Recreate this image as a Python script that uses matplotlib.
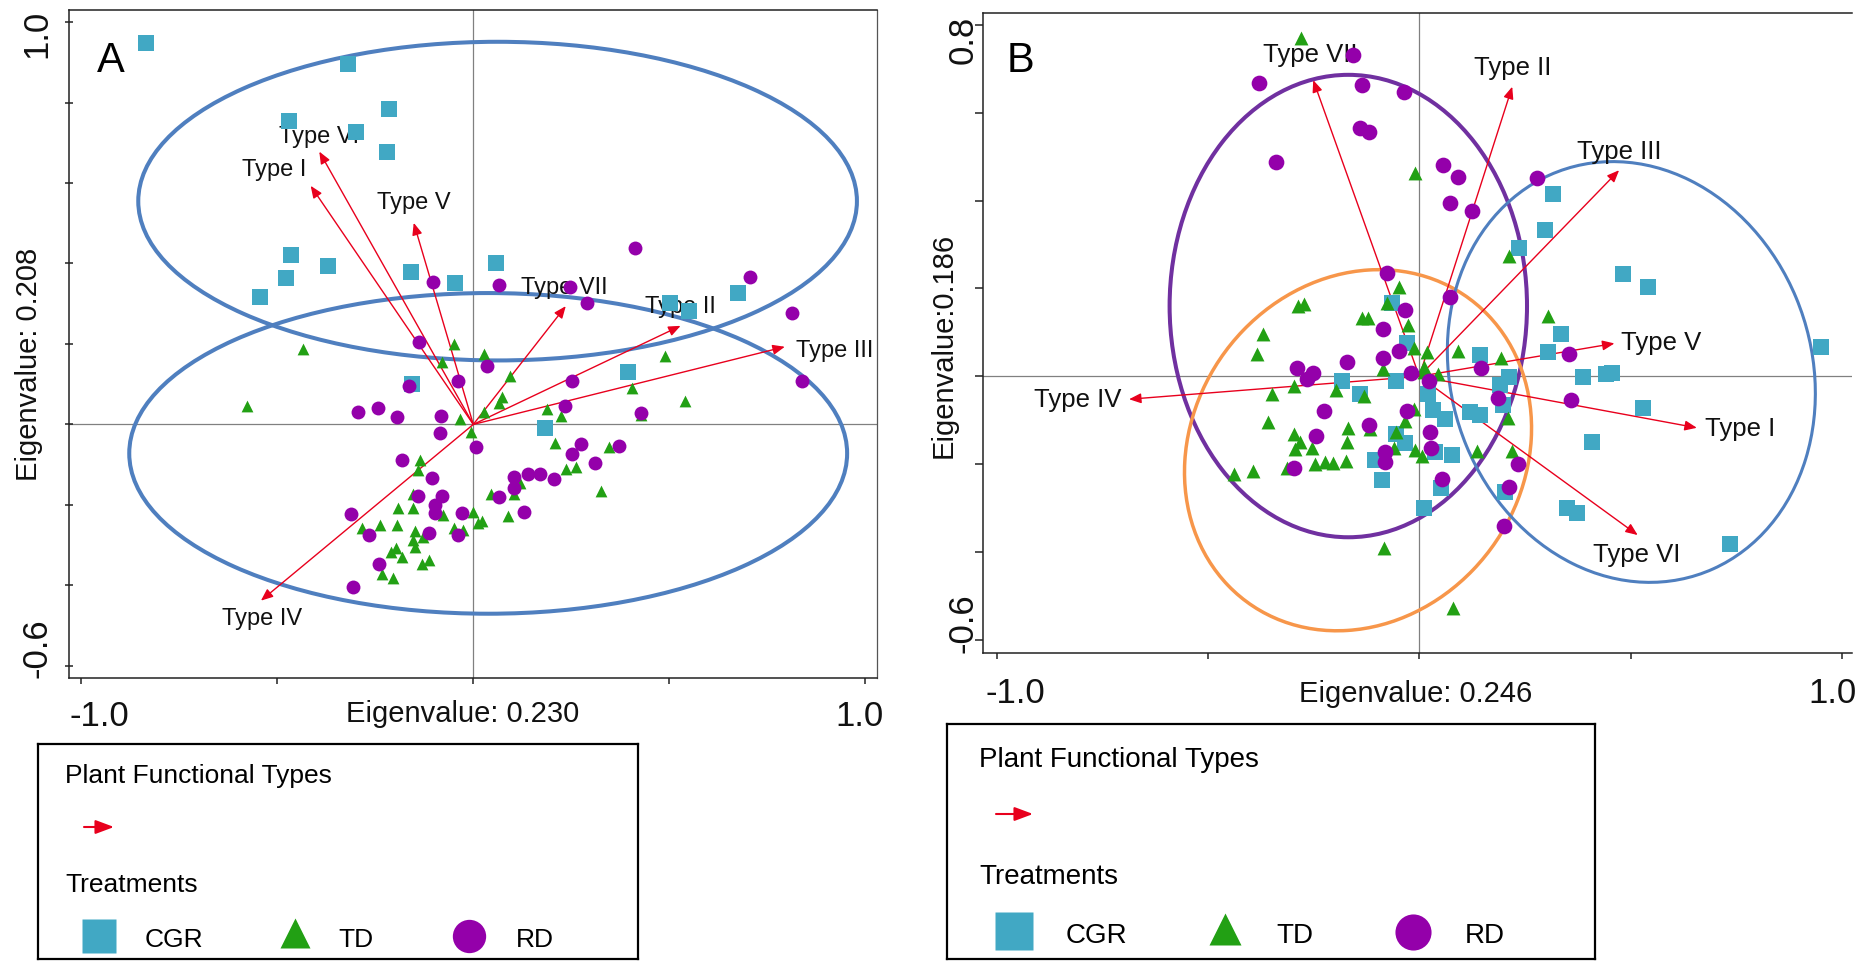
"""Two-panel ordination biplot: plant functional types (arrows) and treatments."""
import numpy as np
import matplotlib as mpl
mpl.use("Agg")
import matplotlib.pyplot as plt
from matplotlib.patches import Ellipse

plt.rcParams["font.family"] = ["Liberation Sans", "DejaVu Sans"]

W, H = 1870, 961

CGR_C = "#41a8c4"
TD_C = "#22a014"
RD_C = "#9400aa"
RED = "#e8001d"
ELL_BLUE = "#4f7fbf"
ELL_PURPLE = "#7030a0"
ELL_ORANGE = "#f7964a"

TYPES = ["Type I", "Type II", "Type III", "Type IV", "Type V", "Type VI", "Type VII"]

# ---------------- panel A ----------------
A_CGR = [(-0.835, 0.949), (-0.319, 0.895), (-0.216, 0.783), (-0.470, 0.754),
         (-0.300, 0.726), (-0.220, 0.676), (-0.466, 0.422), (-0.371, 0.393),
         (-0.478, 0.365), (-0.545, 0.316), (-0.159, 0.379), (-0.046, 0.352),
         (0.057, 0.402), (0.501, 0.301), (0.550, 0.281), (0.676, 0.326),
         (-0.156, 0.101), (0.396, 0.130), (0.182, -0.008)]
A_TD = [(-0.434, 0.187), (-0.577, 0.046), (-0.048, 0.200), (-0.081, 0.154),
        (-0.033, 0.014), (-0.005, -0.018), (-0.135, -0.088), (-0.141, -0.113),
        (-0.154, -0.173), (-0.192, -0.208), (-0.154, -0.208), (-0.077, -0.225),
        (-0.001, -0.218), (0.011, -0.244), (-0.285, -0.258), (-0.237, -0.250),
        (-0.194, -0.251), (-0.149, -0.266), (-0.128, -0.279), (-0.048, -0.258),
        (-0.026, -0.262), (-0.149, -0.304), (-0.209, -0.316), (-0.196, -0.308),
        (-0.183, -0.329), (-0.132, -0.347), (-0.113, -0.338), (-0.234, -0.372),
        (-0.204, -0.382), (-0.154, -0.287),
        (0.027, 0.175), (0.093, 0.121), (0.074, 0.068), (0.066, 0.054),
        (0.027, 0.032), (0.188, 0.039), (0.225, 0.021), (0.489, 0.171),
        (0.406, 0.090), (0.540, 0.057), (0.427, 0.024), (0.208, -0.047),
        (0.346, -0.057), (0.236, -0.111), (0.261, -0.105), (0.325, -0.165),
        (0.119, -0.146), (0.104, -0.173), (0.044, -0.173), (0.021, -0.241),
        (0.089, -0.227)]
A_RD = [(-0.104, 0.355), (-0.139, 0.204), (0.412, 0.438), (0.066, 0.347),
        (0.246, 0.342), (0.289, 0.303), (0.707, 0.366), (0.814, 0.278),
        (-0.040, 0.109), (-0.164, 0.096), (-0.293, 0.030), (-0.242, 0.042),
        (-0.194, 0.018), (-0.083, 0.021), (-0.086, -0.022), (0.006, -0.055),
        (-0.183, -0.088), (-0.105, -0.132), (-0.141, -0.179), (-0.079, -0.179),
        (-0.098, -0.200), (-0.098, -0.221), (-0.311, -0.222), (-0.030, -0.221),
        (-0.266, -0.276), (-0.113, -0.269), (-0.040, -0.275), (-0.240, -0.347),
        (-0.307, -0.405),
        (0.035, 0.144), (0.253, 0.109), (0.233, 0.046), (0.427, 0.029),
        (0.839, 0.109), (0.276, -0.048), (0.253, -0.073), (0.371, -0.053),
        (0.311, -0.096), (0.104, -0.131), (0.140, -0.123), (0.171, -0.123),
        (0.205, -0.136), (0.103, -0.159), (0.066, -0.181), (0.129, -0.217)]
A_TIP_X = [-0.415, 0.529, 0.795, -0.542, -0.152, -0.393, 0.236]
A_TIP_Y = [0.593, 0.245, 0.193, -0.438, 0.501, 0.678, 0.294]
A_LAB_X = [-0.509, 0.529, 0.823, -0.540, -0.153, -0.393, 0.233]
A_LAB_Y = [0.632, 0.291, 0.183, -0.484, 0.550, 0.715, 0.338]
A_LAB_HA = ["center", "center", "left", "center", "center", "center", "center"]
# ellipses: centre x, centre y, width, height, angle
A_ELL = [(0.062, 0.555, 1.834, 0.792, 0.0), (0.038, -0.072, 1.832, 0.797, 0.0)]

# ---------------- panel B ----------------
B_CGR = [(-0.065, 0.166), (0.317, 0.416), (0.297, 0.333), (0.236, 0.291),
         (0.483, 0.233), (0.541, 0.204), (0.335, 0.096),
         (-0.030, 0.077), (-0.184, -0.011), (-0.140, -0.039), (-0.056, -0.011),
         (-0.054, -0.130), (-0.034, -0.152), (-0.105, -0.190), (-0.088, -0.236),
         (0.305, 0.056), (0.144, 0.048), (0.387, -0.001), (0.441, 0.005),
         (0.457, 0.007), (0.951, 0.067), (0.213, -0.001), (0.191, -0.020),
         (0.530, -0.073), (0.021, -0.040), (0.033, -0.077), (0.061, -0.096),
         (0.120, -0.082), (0.144, -0.087), (0.199, -0.066), (0.408, -0.149),
         (0.037, -0.172), (0.077, -0.179), (0.051, -0.255), (0.203, -0.263),
         (0.010, -0.300), (0.349, -0.300), (0.373, -0.311), (0.735, -0.382)]
B_TD = [(-0.280, 0.769), (-0.009, 0.462), (-0.048, 0.204), (-0.077, 0.166),
        (-0.288, 0.160), (-0.272, 0.165), (-0.136, 0.132), (-0.122, 0.132),
        (-0.026, 0.117), (0.213, 0.274), (0.304, 0.137),
        (-0.369, 0.096), (-0.383, 0.050), (-0.012, 0.065), (-0.085, 0.017),
        (-0.296, -0.022), (-0.349, -0.039), (-0.196, -0.031), (-0.130, -0.045),
        (-0.357, -0.103), (-0.012, -0.074), (-0.034, -0.102), (-0.168, -0.118),
        (-0.117, -0.120), (-0.054, -0.126), (-0.296, -0.130), (-0.172, -0.149),
        (-0.282, -0.149), (-0.294, -0.165), (-0.255, -0.162), (-0.059, -0.164),
        (-0.010, -0.168), (-0.314, -0.208), (-0.302, -0.206), (-0.248, -0.200),
        (-0.223, -0.194), (-0.204, -0.196), (-0.174, -0.193), (-0.438, -0.221),
        (-0.393, -0.216), (-0.083, -0.391),
        (0.018, 0.056), (0.092, 0.058), (0.193, 0.041), (0.010, 0.022),
        (0.045, 0.005), (0.012, 0.010), (0.211, -0.094), (0.136, -0.170),
        (0.219, -0.170), (0.007, -0.181), (0.080, -0.527)]
B_RD = [(-0.158, 0.731), (-0.379, 0.667), (-0.136, 0.664), (-0.036, 0.648),
        (-0.140, 0.564), (-0.119, 0.557), (-0.339, 0.488), (-0.077, 0.236),
        (-0.034, 0.152), (-0.085, 0.107),
        (0.055, 0.482), (0.092, 0.454), (0.073, 0.395), (0.125, 0.377),
        (0.278, 0.452), (0.073, 0.181),
        (-0.172, 0.033), (-0.085, 0.042), (-0.048, 0.058), (-0.290, 0.018),
        (-0.251, 0.007), (-0.266, -0.006), (-0.020, 0.007), (-0.225, -0.079),
        (-0.118, -0.111), (-0.245, -0.136), (-0.080, -0.172), (-0.081, -0.194),
        (-0.030, -0.079), (-0.296, -0.208),
        (0.023, -0.011), (0.146, 0.020), (0.355, 0.050), (0.187, -0.050),
        (0.359, -0.054), (0.025, -0.126), (0.028, -0.162), (0.053, -0.234),
        (0.234, -0.200), (0.213, -0.251), (0.201, -0.340)]
B_TIP_X = [0.657, 0.220, 0.473, -0.687, 0.462, 0.517, -0.251]
B_TIP_Y = [-0.117, 0.659, 0.469, -0.052, 0.075, -0.361, 0.674]
B_LAB_X = [0.676, 0.221, 0.473, -0.704, 0.477, 0.515, -0.259]
B_LAB_Y = [-0.120, 0.701, 0.511, -0.054, 0.075, -0.407, 0.731]
B_LAB_HA = ["left", "center", "center", "right", "left", "center", "center"]
B_ELL = [(-0.168, 0.160, 0.846, 1.052, 0.0),    # RD
         (-0.145, -0.168, 0.870, 0.770, 45.0),  # TD
         (0.502, 0.010, 0.976, 0.850, 113.4)]   # CGR
B_ELL_STYLE = [(ELL_PURPLE, 2.9), (ELL_ORANGE, 2.5), (ELL_BLUE, 2.2)]


def px_rect(l, t, r, b):
    return [l / W, 1 - b / H, (r - l) / W, (b - t) / H]


def panel(fig, P):
    ax = fig.add_axes(px_rect(*P["box"]))
    ax.set_xlim(P["xlim"]); ax.set_ylim(P["ylim"])
    ax.axhline(0, color="#808080", lw=0.9, zorder=1)
    ax.axvline(0, color="#808080", lw=0.9, zorder=1)

    for (cx, cy, w, h, ang), (col, lw) in zip(P["ell"], P["ell_style"]):
        ax.add_patch(Ellipse((cx, cy), w, h, angle=ang, fill=False, ec=col,
                             lw=lw, zorder=2))

    for name, tx, ty, lx, ly, ha in zip(TYPES, P["tip_x"], P["tip_y"],
                                        P["lab_x"], P["lab_y"], P["lab_ha"]):
        ax.annotate("", xy=(tx, ty), xytext=(0, 0), zorder=3,
                    arrowprops=dict(arrowstyle="-|>,head_length=0.6,head_width=0.25",
                                    color=RED, lw=1.0, mutation_scale=12,
                                    shrinkA=0, shrinkB=0))
        ax.text(lx, ly, name, ha=ha, va="center", fontsize=P["lab_fs"],
                color="#111111", zorder=4)

    c = np.array(P["cgr"]); t = np.array(P["td"]); r = np.array(P["rd"])
    ax.scatter(c[:, 0], c[:, 1], marker="s", s=P["ms"][0], c=CGR_C, linewidths=0, zorder=5)
    ax.scatter(t[:, 0], t[:, 1], marker="^", s=P["ms"][1], c=TD_C, linewidths=0, zorder=6)
    ax.scatter(r[:, 0], r[:, 1], marker="o", s=P["ms"][2], c=RD_C, linewidths=0, zorder=7)

    # ticks: marks everywhere, labels only at the ends (drawn as text)
    ax.set_xticks([-1.0, -0.5, 0.0, 0.5, 1.0]); ax.set_xticklabels([])
    ax.set_yticks(P["yticks"]); ax.set_yticklabels([])
    ax.tick_params(axis="x", direction="out", length=4, width=1.1, color="#222222")
    ax.tick_params(axis="y", direction=P["ydir"], length=5.5, width=1.1, color="#222222")
    for s in ["left", "bottom", "top"]:
        ax.spines[s].set_linewidth(1.1); ax.spines[s].set_color("#222222")
    if P["right"]:
        ax.spines["right"].set_linewidth(0.9); ax.spines["right"].set_color("#555555")
    else:
        ax.spines["right"].set_visible(False)

    xt = ax.get_xaxis_transform(); yt = ax.get_yaxis_transform()
    for lab, x in zip(["-1.0", "1.0"], P["xtl_x"]):
        ax.text(x, P["xtl_y"], lab, transform=xt, ha="center", va="baseline",
                fontsize=25, color="#111111")
    for lab, y in zip(P["ytl"], P["ytl_y"]):
        ax.text(P["ytl_x"], y, lab, transform=yt, ha="right", va="center",
                rotation=90, fontsize=25, color="#111111")
    ax.text(P["xlab_pos"][0], P["xlab_pos"][1], P["xlab"], transform=xt,
            ha="center", va="baseline", fontsize=21, color="#111111")
    ax.text(P["ylab_pos"][0], P["ylab_pos"][1], P["ylab"], transform=yt,
            ha="center", va="center", rotation=90, fontsize=21, color="#111111")
    ax.text(P["tag_pos"][0], P["tag_pos"][1], P["tag"], ha="left", va="baseline",
            fontsize=30, color="black")
    return ax


def legend(fig, L):
    l, t, r, b = L["box"]
    lax = fig.add_axes(px_rect(l, t, r, b))
    lax.set_xlim(l, r); lax.set_ylim(b, t)
    lax.set_xticks([]); lax.set_yticks([])
    for s in lax.spines.values():
        s.set_linewidth(1.6); s.set_color("black")
    fs = L["fs"]
    lax.text(L["x_text"], L["y_title"], "Plant Functional Types", fontsize=fs, va="baseline")
    ax0, ax1, ay = L["arrow"]
    lax.annotate("", xy=(ax1, ay), xytext=(ax0, ay),
                 arrowprops=dict(arrowstyle="-|>,head_length=0.8,head_width=0.3",
                                 color=RED, lw=1.5, mutation_scale=14,
                                 shrinkA=0, shrinkB=0))
    lax.text(L["x_text"], L["y_treat"], "Treatments", fontsize=fs, va="baseline")
    for (mx, my, mk, ms, col), (tx, lab) in zip(L["markers"], L["labels"]):
        lax.plot(mx, my, marker=mk, ms=ms, color=col, mec="none", ls="none")
        lax.text(tx, L["y_lab"], lab, fontsize=fs, va="baseline")


fig = plt.figure(figsize=(W / 100, H / 100), dpi=100)

panel(fig, dict(
    box=(69.3, 10.0, 877.3, 678.3), xlim=(-1.031, 1.031), ylim=(-0.631, 1.030),
    yticks=np.round(np.arange(-0.6, 1.01, 0.2), 1), ydir="inout", right=True,
    cgr=A_CGR, td=A_TD, rd=A_RD, ms=(121, 72, 100),
    tip_x=A_TIP_X, tip_y=A_TIP_Y, lab_x=A_LAB_X, lab_y=A_LAB_Y, lab_ha=A_LAB_HA,
    lab_fs=17, ell=A_ELL, ell_style=[(ELL_BLUE, 2.9), (ELL_BLUE, 2.9)],
    xtl_x=(-0.954, 0.985), xtl_y=-0.0714,
    ytl=("1.0", "-0.6"), ytl_y=(0.971, -0.557), ytl_x=-0.020,
    xlab="Eigenvalue: 0.230", xlab_pos=(-0.028, -0.066),
    ylab="Eigenvalue: 0.208", ylab_pos=(-0.0494, 0.149),
    tag="A", tag_pos=(-0.961, 0.877)))

panel(fig, dict(
    box=(983.3, 13.3, 1852.3, 653.3), xlim=(-1.032, 1.025), ylim=(-0.630, 0.826),
    yticks=np.round(np.arange(-0.6, 0.81, 0.2), 1), ydir="out", right=False,
    cgr=B_CGR, td=B_TD, rd=B_RD, ms=(144, 100, 128),
    tip_x=B_TIP_X, tip_y=B_TIP_Y, lab_x=B_LAB_X, lab_y=B_LAB_Y, lab_ha=B_LAB_HA,
    lab_fs=18.5, ell=B_ELL, ell_style=B_ELL_STYLE,
    xtl_x=(-0.955, 0.977), xtl_y=-0.0784,
    ytl=("0.8", "-0.6"), ytl_y=(0.765, -0.561), ytl_x=-0.0038,
    xlab="Eigenvalue: 0.246", xlab_pos=(-0.008, -0.0756),
    ylab="Eigenvalue:0.186", ylab_pos=(-0.0452, 0.071),
    tag="B", tag_pos=(-0.977, 0.693)))

legend(fig, dict(
    box=(37.5, 744, 638, 958.5), fs=19, x_text=65, y_title=783.3, y_treat=891.7,
    arrow=(84, 114, 827), y_lab=946.7,
    markers=[(98.5, 936, "s", 25, CGR_C), (295, 933, "^", 21, TD_C), (469, 936, "o", 24, RD_C)],
    labels=[(145, "CGR"), (338, "TD"), (516, "RD")]))

legend(fig, dict(
    box=(947, 724, 1595, 959), fs=20, x_text=979, y_title=767, y_treat=884.3,
    arrow=(996, 1033, 814), y_lab=943.3,
    markers=[(1014, 931, "s", 27, CGR_C), (1225, 929, "^", 23, TD_C), (1413, 932, "o", 26, RD_C)],
    labels=[(1066, "CGR"), (1276, "TD"), (1465, "RD")]))

fig.savefig("out.png", dpi=100)
